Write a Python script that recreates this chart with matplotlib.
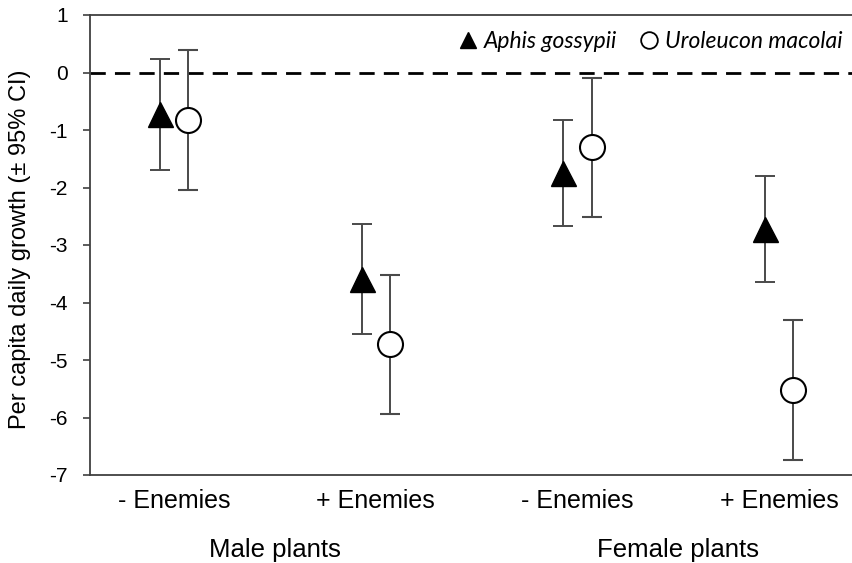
import matplotlib
matplotlib.use("Agg")
import matplotlib.pyplot as plt
from matplotlib.lines import Line2D
import numpy as np

# data
categories = ["- Enemies", "+ Enemies", "- Enemies", "+ Enemies"]
groups = ["Male plants", "Female plants"]
aphis_mean = [-0.73, -3.59, -1.75, -2.72]
aphis_ci = [0.96, 0.96, 0.92, 0.92]
uro_mean = [-0.82, -4.73, -1.30, -5.52]
uro_ci = [1.22, 1.21, 1.21, 1.22]

plt.rcParams['font.family'] = ['Liberation Sans', 'DejaVu Sans']
plt.rcParams['axes.unicode_minus'] = False

fig = plt.figure(figsize=(8.52, 5.63), dpi=100)
ax = fig.add_axes([90 / 852, 1 - 475 / 563, 1 - 90 / 852, (475 - 15) / 563])

x = np.arange(1, len(categories) + 1)
off = 0.07
ecol = '#4a4a4a'

ax.axhline(0, color='black', lw=2, dashes=(5.5, 3.3), zorder=1)

ax.errorbar(x - off, aphis_mean, yerr=aphis_ci, fmt='^', ms=18, mfc='black', mec='black',
            ecolor=ecol, elinewidth=1.4, capsize=7, capthick=1.4, zorder=3)
ax.errorbar(x + off, uro_mean, yerr=uro_ci, fmt='o', ms=18, mfc='white', mec='black', mew=1.5,
            ecolor=ecol, elinewidth=1.4, capsize=7, capthick=1.4, zorder=3)

ax.set_xlim(0.584, 4.36)
ax.set_ylim(-7, 1)
ax.set_yticks(range(-7, 2))
ax.set_xticks(x)
ax.set_xticklabels(categories, fontsize=18)
ax.tick_params(axis='x', length=0, pad=10)
ax.tick_params(axis='y', direction='out', length=5, width=1.2, color='#404040', labelsize=15, pad=11)

for s in ['left', 'bottom', 'top']:
    ax.spines[s].set_color('#404040')
    ax.spines[s].set_linewidth(1.3)
ax.spines['right'].set_visible(False)

ax.set_ylabel('Per capita daily growth (± 95% CI)', fontsize=17)
ax.yaxis.set_label_coords(-0.078, 0.49)

# group labels under the category labels
for i, g in enumerate(groups):
    ax.text((x[2 * i] + x[2 * i + 1]) / 2, -8.3, g, ha='center', va='center', fontsize=18.5)

handles = [Line2D([], [], ls='none', marker='^', ms=12, mfc='black', mec='black'),
           Line2D([], [], ls='none', marker='o', ms=12, mfc='white', mec='black', mew=1.3)]
ax.legend(handles, ['Aphis gossypii', 'Uroleucon macolai'], ncol=2, loc='upper right',
          bbox_to_anchor=(1.015, 1.01), frameon=False, handlelength=0.8, handletextpad=0.3,
          columnspacing=1.0, prop={'family': 'Lato', 'style': 'italic', 'size': 16.5})

fig.savefig('out.png', dpi=100)
